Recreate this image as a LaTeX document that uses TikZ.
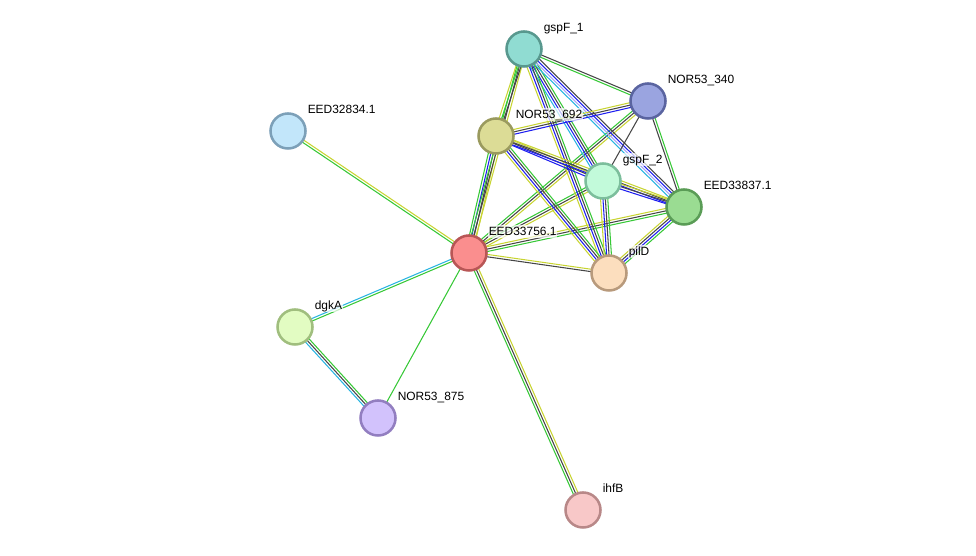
\documentclass[tikz,border=0pt]{standalone}
\usepackage{fontspec}
\setsansfont{Liberation Sans}
\usepackage{tikz}
\usetikzlibrary{calc, backgrounds}
\definecolor{evgreen}{RGB}{55,200,55}
\definecolor{evyellow}{RGB}{200,212,50}
\definecolor{evblack}{RGB}{70,70,70}
\definecolor{evblue}{RGB}{30,30,240}
\definecolor{evcyan}{RGB}{40,180,225}
\definecolor{evlavender}{RGB}{165,165,245}
\newcommand{\multiedge}[3]{%
    \foreach \c [count=\n] in {#3} {\xdef\nedge{\n}}%
    \foreach \c [count=\i] in {#3} {%
        \pgfmathsetmacro{\off}{(\i-(\nedge+1)/2)*0.06}%
        \draw[evidence, \c] ($(#1)!\off cm!90:(#2)$) -- ($(#2)!\off cm!-90:(#1)$);
    }%
}

\begin{document}
\begin{tikzpicture}[
            x=0.025cm, y=-0.025cm,
                protein/.style = {circle, minimum size=0.875cm, inner sep=0pt,
                            line width=1.8pt},
                lbl/.style = {yshift=0.53cm,
                            font=\sffamily\fontsize{8.5}{10}\selectfont,
                            text height=6.5pt, text depth=1.8pt, inner sep=0.5pt,
                            fill=white, fill opacity=0.7, text opacity=1},
                evidence/.style = {line width=0.75pt}]
            \useasboundingbox (0,0) rectangle (976,556);
            \node (GspF1) [protein, fill={rgb,255:red,144;green,220;blue,210}, draw={rgb,255:red,88;green,152;blue,142},
                label={[lbl]0:gspF\_1}] at (524,49) {};
            \node (NOR340) [protein, fill={rgb,255:red,154;green,164;blue,224}, draw={rgb,255:red,90;green,100;blue,160},
                label={[lbl]0:NOR53\_340}] at (648,101) {};
            \node (EED32834) [protein, fill={rgb,255:red,194;green,230;blue,250}, draw={rgb,255:red,124;green,160;blue,184},
                label={[lbl]0:EED32834.1}] at (288,131) {};
            \node (NOR692) [protein, fill={rgb,255:red,220;green,220;blue,150}, draw={rgb,255:red,154;green,154;blue,94},
                label={[lbl]0:NOR53\_692}] at (496,136) {};
            \node (GspF2) [protein, fill={rgb,255:red,194;green,250;blue,218}, draw={rgb,255:red,124;green,190;blue,156},
                label={[lbl]0:gspF\_2}] at (603,181) {};
            \node (EED33837) [protein, fill={rgb,255:red,154;green,220;blue,146}, draw={rgb,255:red,90;green,156;blue,86},
                label={[lbl]0:EED33837.1}] at (684,207) {};
            \node (EED33756) [protein, fill={rgb,255:red,250;green,142;blue,142}, draw={rgb,255:red,184;green,86;blue,86},
                label={[lbl]0:EED33756.1}] at (469,253) {};
            \node (PilD) [protein, fill={rgb,255:red,252;green,222;blue,190}, draw={rgb,255:red,184;green,154;blue,124},
                label={[lbl]0:pilD}] at (609,273) {};
            \node (DgkA) [protein, fill={rgb,255:red,226;green,252;blue,194}, draw={rgb,255:red,160;green,190;blue,126},
                label={[lbl]0:dgkA}] at (295,327) {};
            \node (NOR875) [protein, fill={rgb,255:red,210;green,194;blue,252}, draw={rgb,255:red,146;green,126;blue,192},
                label={[lbl]0:NOR53\_875}] at (378,418) {};
            \node (IhfB) [protein, fill={rgb,255:red,248;green,200;blue,200}, draw={rgb,255:red,184;green,136;blue,136},
                label={[lbl]0:ihfB}] at (583,510) {};
            \begin{pgfonlayer}{background}
            \multiedge{EED32834}{EED33756}{evgreen, evyellow}
            \multiedge{DgkA}{EED33756}{evgreen, evcyan}
            \multiedge{DgkA}{NOR875}{evcyan, evblack, evgreen}
            \multiedge{NOR875}{EED33756}{evgreen}
            \multiedge{EED33756}{IhfB}{evgreen, evblack, evyellow}
            \multiedge{EED33756}{PilD}{evblack, evyellow}
            \multiedge{EED33756}{NOR692}{evyellow, evblack, evblue, evgreen}
            \multiedge{EED33756}{GspF1}{evyellow, evblack, evgreen}
            \multiedge{EED33756}{GspF2}{evyellow, evblack, evgreen}
            \multiedge{EED33756}{NOR340}{evyellow, evblack, evgreen}
            \multiedge{EED33756}{EED33837}{evgreen, evblack, evyellow}
            \multiedge{GspF1}{NOR692}{evyellow, evgreen, evblack}
            \multiedge{GspF1}{NOR340}{evgreen, evblack}
            \multiedge{GspF1}{GspF2}{evcyan, evblue, evblack, evgreen}
            \multiedge{GspF1}{EED33837}{evcyan, evlavender, evblue, evblack}
            \multiedge{GspF1}{PilD}{evyellow, evblue, evblack, evgreen}
            \multiedge{NOR692}{NOR340}{evblue, evblack, evyellow}
            \multiedge{NOR692}{GspF2}{evblue, evblack, evyellow}
            \multiedge{NOR692}{EED33837}{evblue, evblack, evyellow}
            \multiedge{NOR692}{PilD}{evyellow, evblue, evblack, evgreen}
            \multiedge{NOR340}{GspF2}{evblack}
            \multiedge{NOR340}{EED33837}{evblack, evgreen}
            \multiedge{GspF2}{EED33837}{evblue, evblack, evyellow}
            \multiedge{GspF2}{PilD}{evyellow, evblue, evblack, evgreen}
            \multiedge{EED33837}{PilD}{evyellow, evblack, evblue, evgreen}
            \end{pgfonlayer}
        \end{tikzpicture}
\end{document}
